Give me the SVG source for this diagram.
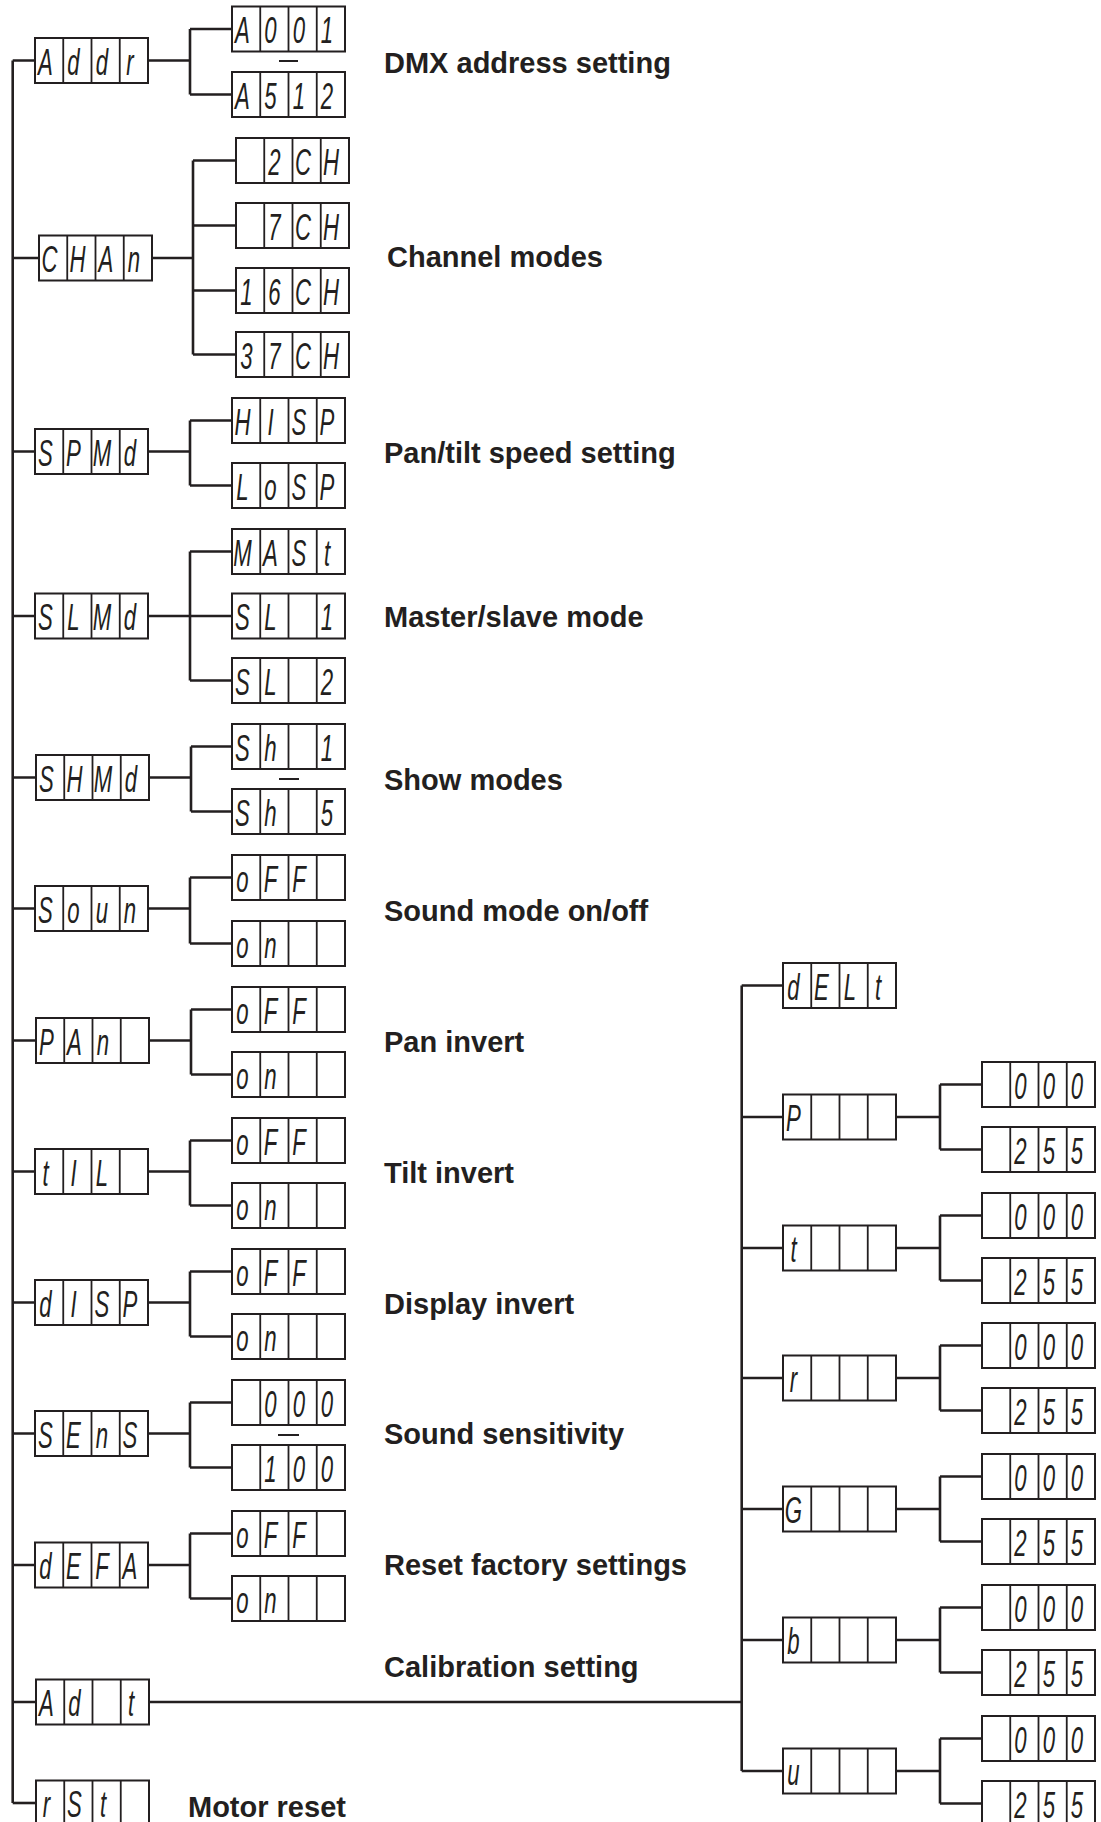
<svg xmlns="http://www.w3.org/2000/svg" width="1101" height="1822" viewBox="0 0 1101 1822">
<style>
.ln{fill:none;stroke:#231f20;stroke-width:2.6}
.bx{fill:#fff;stroke:#231f20;stroke-width:2}
.dv{fill:none;stroke:#231f20;stroke-width:1.8}
.sg{font-family:"Liberation Sans",Arial,sans-serif;font-style:italic;font-size:37px;fill:#231f20;text-anchor:middle}
.lb{font-family:"Liberation Sans",Arial,sans-serif;font-weight:bold;font-size:29px;fill:#231f20}
.ds{stroke:#231f20;stroke-width:2}
</style>
<defs>
<g id="d4"><rect class="bx" x="0" y="0" width="113" height="45"/><path class="dv" d="M28.25 0V45M56.5 0V45M84.75 0V45"/></g>
</defs>
<rect width="1101" height="1822" fill="#fff"/>
<g id="connectors" class="ln">
<path d="M12.7 60.5V1803"/>
<path d="M12.7 60.5H35M148 60.5H190M190 29V94.5M190 29H232M190 94.5H232"/>
<path d="M12.7 258H39M152 258H193M193 160.5V354.5M193 160.5H236M193 225.5H236M193 290.5H236M193 354.5H236"/>
<path d="M12.7 451.5H35M148 451.5H190M190 420.5V485.5M190 420.5H232M190 485.5H232"/>
<path d="M12.7 616H35M148 616H190M190 551.5V680.5M190 551.5H232M190 616H232M190 680.5H232"/>
<path d="M12.7 777.5H36M149 777.5H191M191 746.5V811.5M191 746.5H232M191 811.5H232"/>
<path d="M12.7 908.5H35M148 908.5H190M190 877.5V943.5M190 877.5H232M190 943.5H232"/>
<path d="M12.7 1040.5H36M149 1040.5H191M191 1009.5V1074.5M191 1009.5H232M191 1074.5H232"/>
<path d="M12.7 1171.5H35M148 1171.5H190M190 1140.5V1205.5M190 1140.5H232M190 1205.5H232"/>
<path d="M12.7 1302.5H35M148 1302.5H190M190 1271.5V1336.5M190 1271.5H232M190 1336.5H232"/>
<path d="M12.7 1433.5H35M148 1433.5H190M190 1402.5V1467.5M190 1402.5H232M190 1467.5H232"/>
<path d="M12.7 1565H35M148 1565H190M190 1533.5V1598.5M190 1533.5H232M190 1598.5H232"/>
<path d="M12.7 1702H36M149 1702H741.7"/>
<path d="M12.7 1803H36"/>
<path d="M741.7 985.5V1771M741.7 985.5H783M741.7 1117H783M741.7 1248H783M741.7 1378H783M741.7 1509H783M741.7 1640H783M741.7 1771H783"/>
<path d="M896 1117H940M940 1084.5V1149.5M940 1084.5H982M940 1149.5H982"/>
<path d="M896 1248H940M940 1215.5V1280.5M940 1215.5H982M940 1280.5H982"/>
<path d="M896 1378H940M940 1345.5V1410.5M940 1345.5H982M940 1410.5H982"/>
<path d="M896 1509H940M940 1476.5V1541.5M940 1476.5H982M940 1541.5H982"/>
<path d="M896 1640H940M940 1607.5V1672.5M940 1607.5H982M940 1672.5H982"/>
<path d="M896 1771H940M940 1738.5V1803.5M940 1738.5H982M940 1803.5H982"/>
</g>
<g id="range-dashes">
<path class="ds" d="M279 61H298M279 779H299M278 1435H299"/>
</g>
<!-- left parents -->
<g id="n-addr" transform="translate(35 38)"><use href="#d4"/><text class="sg" transform="scale(.6 1)" x="17.5 64.2 111.7 158.3" y="37">Addr</text></g>
<g id="n-chan" transform="translate(39 235.5)"><use href="#d4"/><text class="sg" transform="scale(.6 1)" x="17.5 64.2 111.7 158.3" y="37">CHAn</text></g>
<g id="n-spmd" transform="translate(35 429)"><use href="#d4"/><text class="sg" transform="scale(.6 1)" x="17.5 64.2 111.7 158.3" y="37">SPMd</text></g>
<g id="n-slmd" transform="translate(35 593.5)"><use href="#d4"/><text class="sg" transform="scale(.6 1)" x="17.5 64.2 111.7 158.3" y="37">SLMd</text></g>
<g id="n-shmd" transform="translate(36 755)"><use href="#d4"/><text class="sg" transform="scale(.6 1)" x="17.5 64.2 111.7 158.3" y="37">SHMd</text></g>
<g id="n-soun" transform="translate(35 886)"><use href="#d4"/><text class="sg" transform="scale(.6 1)" x="17.5 64.2 111.7 158.3" y="37">Soun</text></g>
<g id="n-pan" transform="translate(36 1018)"><use href="#d4"/><text class="sg" transform="scale(.6 1)" x="17.5 64.2 111.7" y="37">PAn</text></g>
<g id="n-til" transform="translate(35 1149)"><use href="#d4"/><text class="sg" transform="scale(.6 1)" x="17.5 64.2 111.7" y="37">tIL</text></g>
<g id="n-disp" transform="translate(35 1280)"><use href="#d4"/><text class="sg" transform="scale(.6 1)" x="17.5 64.2 111.7 158.3" y="37">dISP</text></g>
<g id="n-sens" transform="translate(35 1411)"><use href="#d4"/><text class="sg" transform="scale(.6 1)" x="17.5 64.2 111.7 158.3" y="37">SEnS</text></g>
<g id="n-defa" transform="translate(35 1542.5)"><use href="#d4"/><text class="sg" transform="scale(.6 1)" x="17.5 64.2 111.7 158.3" y="37">dEFA</text></g>
<g id="n-adt" transform="translate(36 1679.5)"><use href="#d4"/><text class="sg" transform="scale(.6 1)" x="17.5 64.2 158.3" y="37">Adt</text></g>
<g id="n-rst" transform="translate(36 1780.5)"><use href="#d4"/><text class="sg" transform="scale(.6 1)" x="17.5 64.2 111.7" y="37">rSt</text></g>
<!-- left children -->
<g id="n-a001" transform="translate(232 6.5)"><use href="#d4"/><text class="sg" transform="scale(.6 1)" x="17.5 64.2 111.7 158.3" y="37">A001</text></g>
<g id="n-a512" transform="translate(232 72)"><use href="#d4"/><text class="sg" transform="scale(.6 1)" x="17.5 64.2 111.7 158.3" y="37">A512</text></g>
<g id="n-2ch" transform="translate(236 138)"><use href="#d4"/><text class="sg" transform="scale(.6 1)" x="64.2 111.7 158.3" y="37">2CH</text></g>
<g id="n-7ch" transform="translate(236 203)"><use href="#d4"/><text class="sg" transform="scale(.6 1)" x="64.2 111.7 158.3" y="37">7CH</text></g>
<g id="n-16ch" transform="translate(236 268)"><use href="#d4"/><text class="sg" transform="scale(.6 1)" x="17.5 64.2 111.7 158.3" y="37">16CH</text></g>
<g id="n-37ch" transform="translate(236 332)"><use href="#d4"/><text class="sg" transform="scale(.6 1)" x="17.5 64.2 111.7 158.3" y="37">37CH</text></g>
<g id="n-hisp" transform="translate(232 398)"><use href="#d4"/><text class="sg" transform="scale(.6 1)" x="17.5 64.2 111.7 158.3" y="37">HISP</text></g>
<g id="n-losp" transform="translate(232 463)"><use href="#d4"/><text class="sg" transform="scale(.6 1)" x="17.5 64.2 111.7 158.3" y="37">LoSP</text></g>
<g id="n-mast" transform="translate(232 529)"><use href="#d4"/><text class="sg" transform="scale(.6 1)" x="17.5 64.2 111.7 158.3" y="37">MASt</text></g>
<g id="n-sl1" transform="translate(232 593.5)"><use href="#d4"/><text class="sg" transform="scale(.6 1)" x="17.5 64.2 158.3" y="37">SL1</text></g>
<g id="n-sl2" transform="translate(232 658)"><use href="#d4"/><text class="sg" transform="scale(.6 1)" x="17.5 64.2 158.3" y="37">SL2</text></g>
<g id="n-sh1" transform="translate(232 724)"><use href="#d4"/><text class="sg" transform="scale(.6 1)" x="17.5 64.2 158.3" y="37">Sh1</text></g>
<g id="n-sh5" transform="translate(232 789)"><use href="#d4"/><text class="sg" transform="scale(.6 1)" x="17.5 64.2 158.3" y="37">Sh5</text></g>
<g id="n-soun-off" transform="translate(232 855)"><use href="#d4"/><text class="sg" transform="scale(.6 1)" x="17.5 64.2 111.7" y="37">oFF</text></g>
<g id="n-soun-on" transform="translate(232 921)"><use href="#d4"/><text class="sg" transform="scale(.6 1)" x="17.5 64.2" y="37">on</text></g>
<g id="n-pan-off" transform="translate(232 987)"><use href="#d4"/><text class="sg" transform="scale(.6 1)" x="17.5 64.2 111.7" y="37">oFF</text></g>
<g id="n-pan-on" transform="translate(232 1052)"><use href="#d4"/><text class="sg" transform="scale(.6 1)" x="17.5 64.2" y="37">on</text></g>
<g id="n-til-off" transform="translate(232 1118)"><use href="#d4"/><text class="sg" transform="scale(.6 1)" x="17.5 64.2 111.7" y="37">oFF</text></g>
<g id="n-til-on" transform="translate(232 1183)"><use href="#d4"/><text class="sg" transform="scale(.6 1)" x="17.5 64.2" y="37">on</text></g>
<g id="n-disp-off" transform="translate(232 1249)"><use href="#d4"/><text class="sg" transform="scale(.6 1)" x="17.5 64.2 111.7" y="37">oFF</text></g>
<g id="n-disp-on" transform="translate(232 1314)"><use href="#d4"/><text class="sg" transform="scale(.6 1)" x="17.5 64.2" y="37">on</text></g>
<g id="n-sens-000" transform="translate(232 1380)"><use href="#d4"/><text class="sg" transform="scale(.6 1)" x="64.2 111.7 158.3" y="37">000</text></g>
<g id="n-sens-100" transform="translate(232 1445)"><use href="#d4"/><text class="sg" transform="scale(.6 1)" x="64.2 111.7 158.3" y="37">100</text></g>
<g id="n-defa-off" transform="translate(232 1511)"><use href="#d4"/><text class="sg" transform="scale(.6 1)" x="17.5 64.2 111.7" y="37">oFF</text></g>
<g id="n-defa-on" transform="translate(232 1576)"><use href="#d4"/><text class="sg" transform="scale(.6 1)" x="17.5 64.2" y="37">on</text></g>
<!-- right panel -->
<g id="n-delt" transform="translate(783 963)"><use href="#d4"/><text class="sg" transform="scale(.6 1)" x="17.5 64.2 111.7 158.3" y="37">dELt</text></g>
<g id="n-p" transform="translate(783 1094.5)"><use href="#d4"/><text class="sg" transform="scale(.6 1)" x="17.5" y="37">P</text></g>
<g id="n-t" transform="translate(783 1225.5)"><use href="#d4"/><text class="sg" transform="scale(.6 1)" x="17.5" y="37">t</text></g>
<g id="n-r" transform="translate(783 1355.5)"><use href="#d4"/><text class="sg" transform="scale(.6 1)" x="17.5" y="37">r</text></g>
<g id="n-g" transform="translate(783 1486.5)"><use href="#d4"/><text class="sg" transform="scale(.6 1)" x="17.5" y="37">G</text></g>
<g id="n-b" transform="translate(783 1617.5)"><use href="#d4"/><text class="sg" transform="scale(.6 1)" x="17.5" y="37">b</text></g>
<g id="n-u" transform="translate(783 1748.5)"><use href="#d4"/><text class="sg" transform="scale(.6 1)" x="17.5" y="37">u</text></g>
<g id="n-p-000" transform="translate(982 1062)"><use href="#d4"/><text class="sg" transform="scale(.6 1)" x="64.2 111.7 158.3" y="37">000</text></g>
<g id="n-p-255" transform="translate(982 1127)"><use href="#d4"/><text class="sg" transform="scale(.6 1)" x="64.2 111.7 158.3" y="37">255</text></g>
<g id="n-t-000" transform="translate(982 1193)"><use href="#d4"/><text class="sg" transform="scale(.6 1)" x="64.2 111.7 158.3" y="37">000</text></g>
<g id="n-t-255" transform="translate(982 1258)"><use href="#d4"/><text class="sg" transform="scale(.6 1)" x="64.2 111.7 158.3" y="37">255</text></g>
<g id="n-r-000" transform="translate(982 1323)"><use href="#d4"/><text class="sg" transform="scale(.6 1)" x="64.2 111.7 158.3" y="37">000</text></g>
<g id="n-r-255" transform="translate(982 1388)"><use href="#d4"/><text class="sg" transform="scale(.6 1)" x="64.2 111.7 158.3" y="37">255</text></g>
<g id="n-g-000" transform="translate(982 1454)"><use href="#d4"/><text class="sg" transform="scale(.6 1)" x="64.2 111.7 158.3" y="37">000</text></g>
<g id="n-g-255" transform="translate(982 1519)"><use href="#d4"/><text class="sg" transform="scale(.6 1)" x="64.2 111.7 158.3" y="37">255</text></g>
<g id="n-b-000" transform="translate(982 1585)"><use href="#d4"/><text class="sg" transform="scale(.6 1)" x="64.2 111.7 158.3" y="37">000</text></g>
<g id="n-b-255" transform="translate(982 1650)"><use href="#d4"/><text class="sg" transform="scale(.6 1)" x="64.2 111.7 158.3" y="37">255</text></g>
<g id="n-u-000" transform="translate(982 1716)"><use href="#d4"/><text class="sg" transform="scale(.6 1)" x="64.2 111.7 158.3" y="37">000</text></g>
<g id="n-u-255" transform="translate(982 1781)"><use href="#d4"/><text class="sg" transform="scale(.6 1)" x="64.2 111.7 158.3" y="37">255</text></g>
<!-- labels -->
<g id="labels" class="lb">
<text x="384" y="73">DMX address setting</text>
<text x="387" y="267">Channel modes</text>
<text x="384" y="463">Pan/tilt speed setting</text>
<text x="384" y="627">Master/slave mode</text>
<text x="384" y="790">Show modes</text>
<text x="384" y="921">Sound mode on/off</text>
<text x="384" y="1052">Pan invert</text>
<text x="384" y="1183">Tilt invert</text>
<text x="384" y="1314">Display invert</text>
<text x="384" y="1444">Sound sensitivity</text>
<text x="384" y="1575">Reset factory settings</text>
<text x="384" y="1677">Calibration setting</text>
<text x="188" y="1817">Motor reset</text>
</g>
</svg>
